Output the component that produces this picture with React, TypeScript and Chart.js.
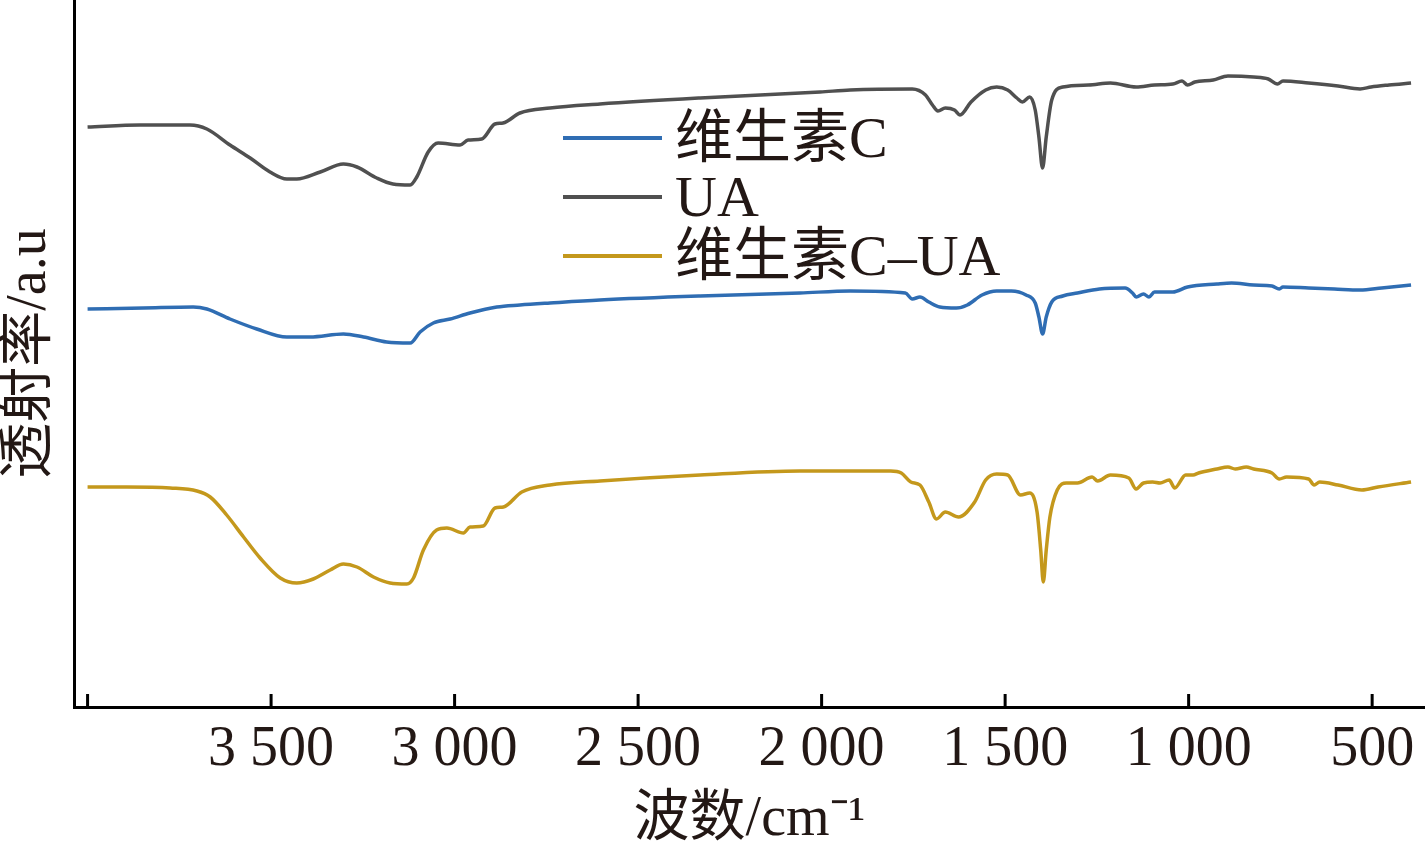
import React, { useEffect, useRef } from "react";
import { Chart, registerables } from "chart.js";

Chart.register(...registerables);

// ---- data (wavenumber in cm^-1, transmittance in arbitrary units, offset per curve) ----
const seriesLabels = ["维生素C", "UA", "维生素C–UA"];
const seriesColors = ["#2f6db3", "#505050", "#c4981c"];

const waveVC = [4000, 3848, 3712, 3675, 3612, 3539, 3457, 3394, 3303, 3248, 3185, 3121, 3094, 3058, 3012, 2958, 2885, 2822, 2740, 2604, 2331, 2059, 1922, 1772, 1753, 1732, 1708, 1678, 1633, 1603, 1563, 1523, 1483, 1443, 1418, 1408, 1398, 1388, 1373, 1343, 1303, 1243, 1173, 1153, 1143, 1123, 1108, 1093, 1043, 1003, 923, 883, 823, 773, 753, 743, 673, 603, 533, 474, 394];
const transVC = [398, 399, 400, 398, 388, 378, 370, 370, 373, 370, 365, 364, 375, 384, 388, 394, 400, 402, 404, 407, 411, 414, 416, 414, 408, 410, 405, 400, 399, 402, 412, 416, 416, 412, 404, 390, 373, 390, 405, 411, 414, 418, 419, 414, 410, 413, 410, 415, 415, 420, 423, 424, 422, 421, 418, 420, 419, 418, 417, 419, 422];

const waveUA = [4000, 3857, 3721, 3675, 3612, 3557, 3503, 3457, 3430, 3366, 3303, 3266, 3212, 3168, 3121, 3103, 3072, 3045, 2985, 2963, 2926, 2890, 2868, 2822, 2740, 2604, 2331, 2004, 1922, 1753, 1717, 1698, 1683, 1663, 1638, 1623, 1593, 1553, 1523, 1493, 1468, 1453, 1433, 1418, 1408, 1398, 1388, 1373, 1343, 1273, 1213, 1143, 1093, 1043, 1018, 1003, 983, 933, 893, 823, 783, 758, 743, 673, 593, 533, 503, 454, 394];
const transUA = [580, 582, 582, 578, 562, 549, 535, 528, 528, 535, 543, 540, 529, 523, 522, 530, 555, 564, 562, 567, 568, 583, 584, 594, 599, 603, 609, 615, 617, 618, 612, 602, 596, 599, 597, 592, 605, 617, 620, 617, 609, 605, 610, 597, 570, 539, 570, 607, 620, 622, 624, 620, 622, 623, 626, 622, 625, 627, 631, 630, 628, 623, 626, 624, 621, 618, 620, 622, 624];

const waveVCUA = [4000, 3893, 3775, 3702, 3666, 3621, 3575, 3530, 3475, 3430, 3385, 3339, 3303, 3266, 3221, 3176, 3130, 3112, 3085, 3049, 3021, 2976, 2958, 2922, 2890, 2867, 2817, 2740, 2604, 2331, 2059, 1922, 1812, 1783, 1757, 1732, 1708, 1687, 1663, 1627, 1583, 1553, 1523, 1493, 1458, 1433, 1413, 1403, 1396, 1388, 1378, 1358, 1333, 1303, 1263, 1248, 1213, 1163, 1143, 1123, 1098, 1078, 1053, 1038, 1008, 988, 973, 923, 893, 873, 843, 823, 773, 753, 733, 673, 658, 643, 593, 528, 484, 394];
const transVCUA = [220, 220, 219, 216, 210, 192, 170, 149, 129, 124, 128, 137, 143, 140, 130, 124, 123, 129, 157, 177, 179, 174, 180, 181, 199, 200, 215, 222, 226, 232, 236, 236, 236, 234, 225, 222, 205, 188, 195, 190, 205, 227, 233, 232, 212, 214, 195, 157, 125, 157, 190, 217, 224, 224, 230, 226, 232, 229, 218, 224, 225, 224, 227, 219, 232, 232, 234, 238, 240, 238, 240, 238, 234, 228, 230, 228, 222, 225, 222, 217, 220, 225];

const xTickValues = [4000, 3500, 3000, 2500, 2000, 1500, 1000, 500];
const xTitle = "波数/cm⁻¹";
const yTitle = "透射率/a.u";

const FONT_FAMILY = '"Liberation Serif", "Noto Sans CJK SC", serif';
const TEXT_COLOR = "#231815";

function formatTick(v: number): string {
  if (v === 4000) return "";
  if (v >= 1000) return `${Math.floor(v / 1000)} ${String(v % 1000).padStart(3, "0")}`;
  return String(v);
}

function toPoints(xs: number[], ys: number[]) {
  return xs.map((x, i) => ({ x, y: ys[i] }));
}

const innerTicksPlugin = {
  id: "innerTicks",
  afterDraw(chart: any) {
    const xs = chart.scales.x;
    const ctx = chart.ctx;
    const y0 = chart.chartArea.bottom;
    ctx.save();
    ctx.strokeStyle = "#000";
    ctx.lineWidth = 3;
    ctx.beginPath();
    xs.ticks.forEach((t: any) => {
      const px = xs.getPixelForValue(t.value);
      ctx.moveTo(px, y0);
      ctx.lineTo(px, y0 - 13);
    });
    ctx.stroke();
    ctx.restore();
  },
};

const inlineLegendPlugin = {
  id: "inlineLegend",
  afterDraw(chart: any) {
    const ctx = chart.ctx;
    const { left } = chart.chartArea;
    const x0 = left + 489;
    const y0 = 138;
    const rowGap = 59;
    ctx.save();
    ctx.font = `58px ${FONT_FAMILY}`;
    ctx.textBaseline = "middle";
    ctx.textAlign = "left";
    chart.data.datasets.forEach((ds: any, i: number) => {
      const y = y0 + i * rowGap;
      ctx.strokeStyle = ds.borderColor;
      ctx.lineWidth = 4;
      ctx.beginPath();
      ctx.moveTo(x0, y);
      ctx.lineTo(x0 + 99, y);
      ctx.stroke();
      ctx.fillStyle = TEXT_COLOR;
      ctx.fillText(ds.label, x0 + 112, y + 4);
    });
    ctx.restore();
  },
};

export default function App() {
  const canvasRef = useRef<HTMLCanvasElement | null>(null);

  useEffect(() => {
    document.body.style.margin = "0";
    const canvas = canvasRef.current;
    if (!canvas) return;
    const waves = [waveVC, waveUA, waveVCUA];
    const trans = [transVC, transUA, transVCUA];
    const chart = new Chart(canvas, {
      type: "line",
      data: {
        datasets: seriesLabels.map((label, i) => ({
          label,
          data: toPoints(waves[i], trans[i]),
          borderColor: seriesColors[i],
          backgroundColor: seriesColors[i],
          borderWidth: 3.5,
          pointRadius: 0,
          cubicInterpolationMode: "monotone" as const,
          fill: false,
        })),
      },
      options: {
        responsive: false,
        animation: false,
        maintainAspectRatio: false,
        layout: { padding: 0 },
        plugins: {
          legend: { display: false },
          tooltip: { enabled: false },
        },
        scales: {
          x: {
            type: "linear",
            reverse: true,
            min: 356,
            max: 4037,
            grid: { display: false, drawTicks: false },
            border: { display: true, color: "#000", width: 3 },
            afterBuildTicks: (scale: any) => {
              scale.ticks = xTickValues.map((v) => ({ value: v }));
            },
            afterFit: (scale: any) => {
              scale.height = 141;
            },
            ticks: {
              autoSkip: false,
              maxRotation: 0,
              padding: 10,
              color: TEXT_COLOR,
              font: { family: FONT_FAMILY, size: 56 },
              callback: (v: any) => formatTick(Number(v)),
            },
            title: {
              display: true,
              text: xTitle,
              color: TEXT_COLOR,
              font: { family: FONT_FAMILY, size: 56, lineHeight: 1 },
              padding: 0,
            },
          },
          y: {
            type: "linear",
            min: 0,
            max: 707,
            grid: { display: false, drawTicks: false },
            border: { display: true, color: "#000", width: 3 },
            ticks: { display: false },
            afterFit: (scale: any) => {
              scale.width = 74;
            },
            title: {
              display: true,
              text: yTitle,
              color: TEXT_COLOR,
              font: { family: FONT_FAMILY, size: 56, lineHeight: 1 },
              padding: { top: 2, bottom: 0 },
            },
          },
        },
      },
      plugins: [innerTicksPlugin, inlineLegendPlugin],
    });
    return () => chart.destroy();
  }, []);

  return (
    <div style={{ width: 1425, height: 848, background: "#fff" }}>
      <canvas ref={canvasRef} width={1425} height={848} />
    </div>
  );
}
